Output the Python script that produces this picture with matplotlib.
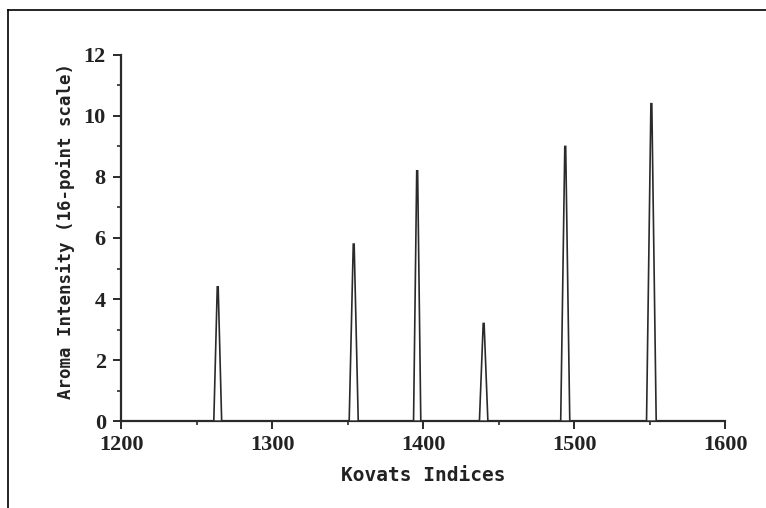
import matplotlib
matplotlib.use("Agg")
import matplotlib.pyplot as plt
from matplotlib.lines import Line2D
import numpy as np

# Peak positions (Kovats index) and aroma intensities
kovats = [1264, 1354, 1396, 1440, 1494, 1551]
intensity = [4.4, 5.8, 8.2, 3.2, 9.0, 10.4]
base_half = [2.6, 3.0, 2.4, 2.8, 3.0, 3.2]

ink = "#2a2a2a"

fig = plt.figure(figsize=(7.66, 5.08), dpi=100)
ax = fig.add_axes([0.158, 0.171, 0.789, 0.721])

for k, h, w in zip(kovats, intensity, base_half):
    xs = [k - w, k - 0.3, k + 0.3, k + w]
    ys = [0, h, h, 0]
    ax.fill(xs, ys, facecolor="white", edgecolor=ink, linewidth=1.2, zorder=3)

ax.set_xlim(1200, 1600)
ax.set_ylim(0, 12)
ax.set_xticks(np.arange(1200, 1601, 100))
ax.set_xticks(np.arange(1250, 1600, 100), minor=True)
ax.set_yticks(np.arange(0, 13, 2))
ax.set_yticks(np.arange(1, 12, 2), minor=True)

for side in ("top", "right"):
    ax.spines[side].set_visible(False)
for side in ("left", "bottom"):
    ax.spines[side].set_color(ink)
    ax.spines[side].set_linewidth(1.6)

ax.tick_params(axis="both", which="major", direction="out", length=6, width=1.4,
               color=ink, labelcolor="#222222")
ax.tick_params(axis="both", which="minor", direction="out", length=3, width=1.2, color=ink)
ax.tick_params(axis="y", pad=5)
ax.tick_params(axis="x", pad=4)

for lab in ax.get_xticklabels() + ax.get_yticklabels():
    lab.set_fontfamily("Liberation Serif")
    lab.set_fontweight("bold")
    lab.set_fontsize(16)

ax.set_xlabel("Kovats Indices", fontsize=14, fontweight="bold",
              family="DejaVu Sans Mono", color="#222222", labelpad=8)
ax.set_ylabel("Aroma Intensity (16-point scale)", fontsize=12.5, fontweight="bold",
              family="DejaVu Sans Mono", color="#222222")
ax.yaxis.set_label_coords(-0.076, 0.52)

# scanned page frame (top and left edges)
fig.add_artist(Line2D([0.0105, 1.0], [0.980, 0.980], transform=fig.transFigure,
                      color="black", linewidth=1.2))
fig.add_artist(Line2D([0.0105, 0.0105], [0.0, 0.980], transform=fig.transFigure,
                      color="black", linewidth=1.2))

fig.savefig("out.png", dpi=100)
